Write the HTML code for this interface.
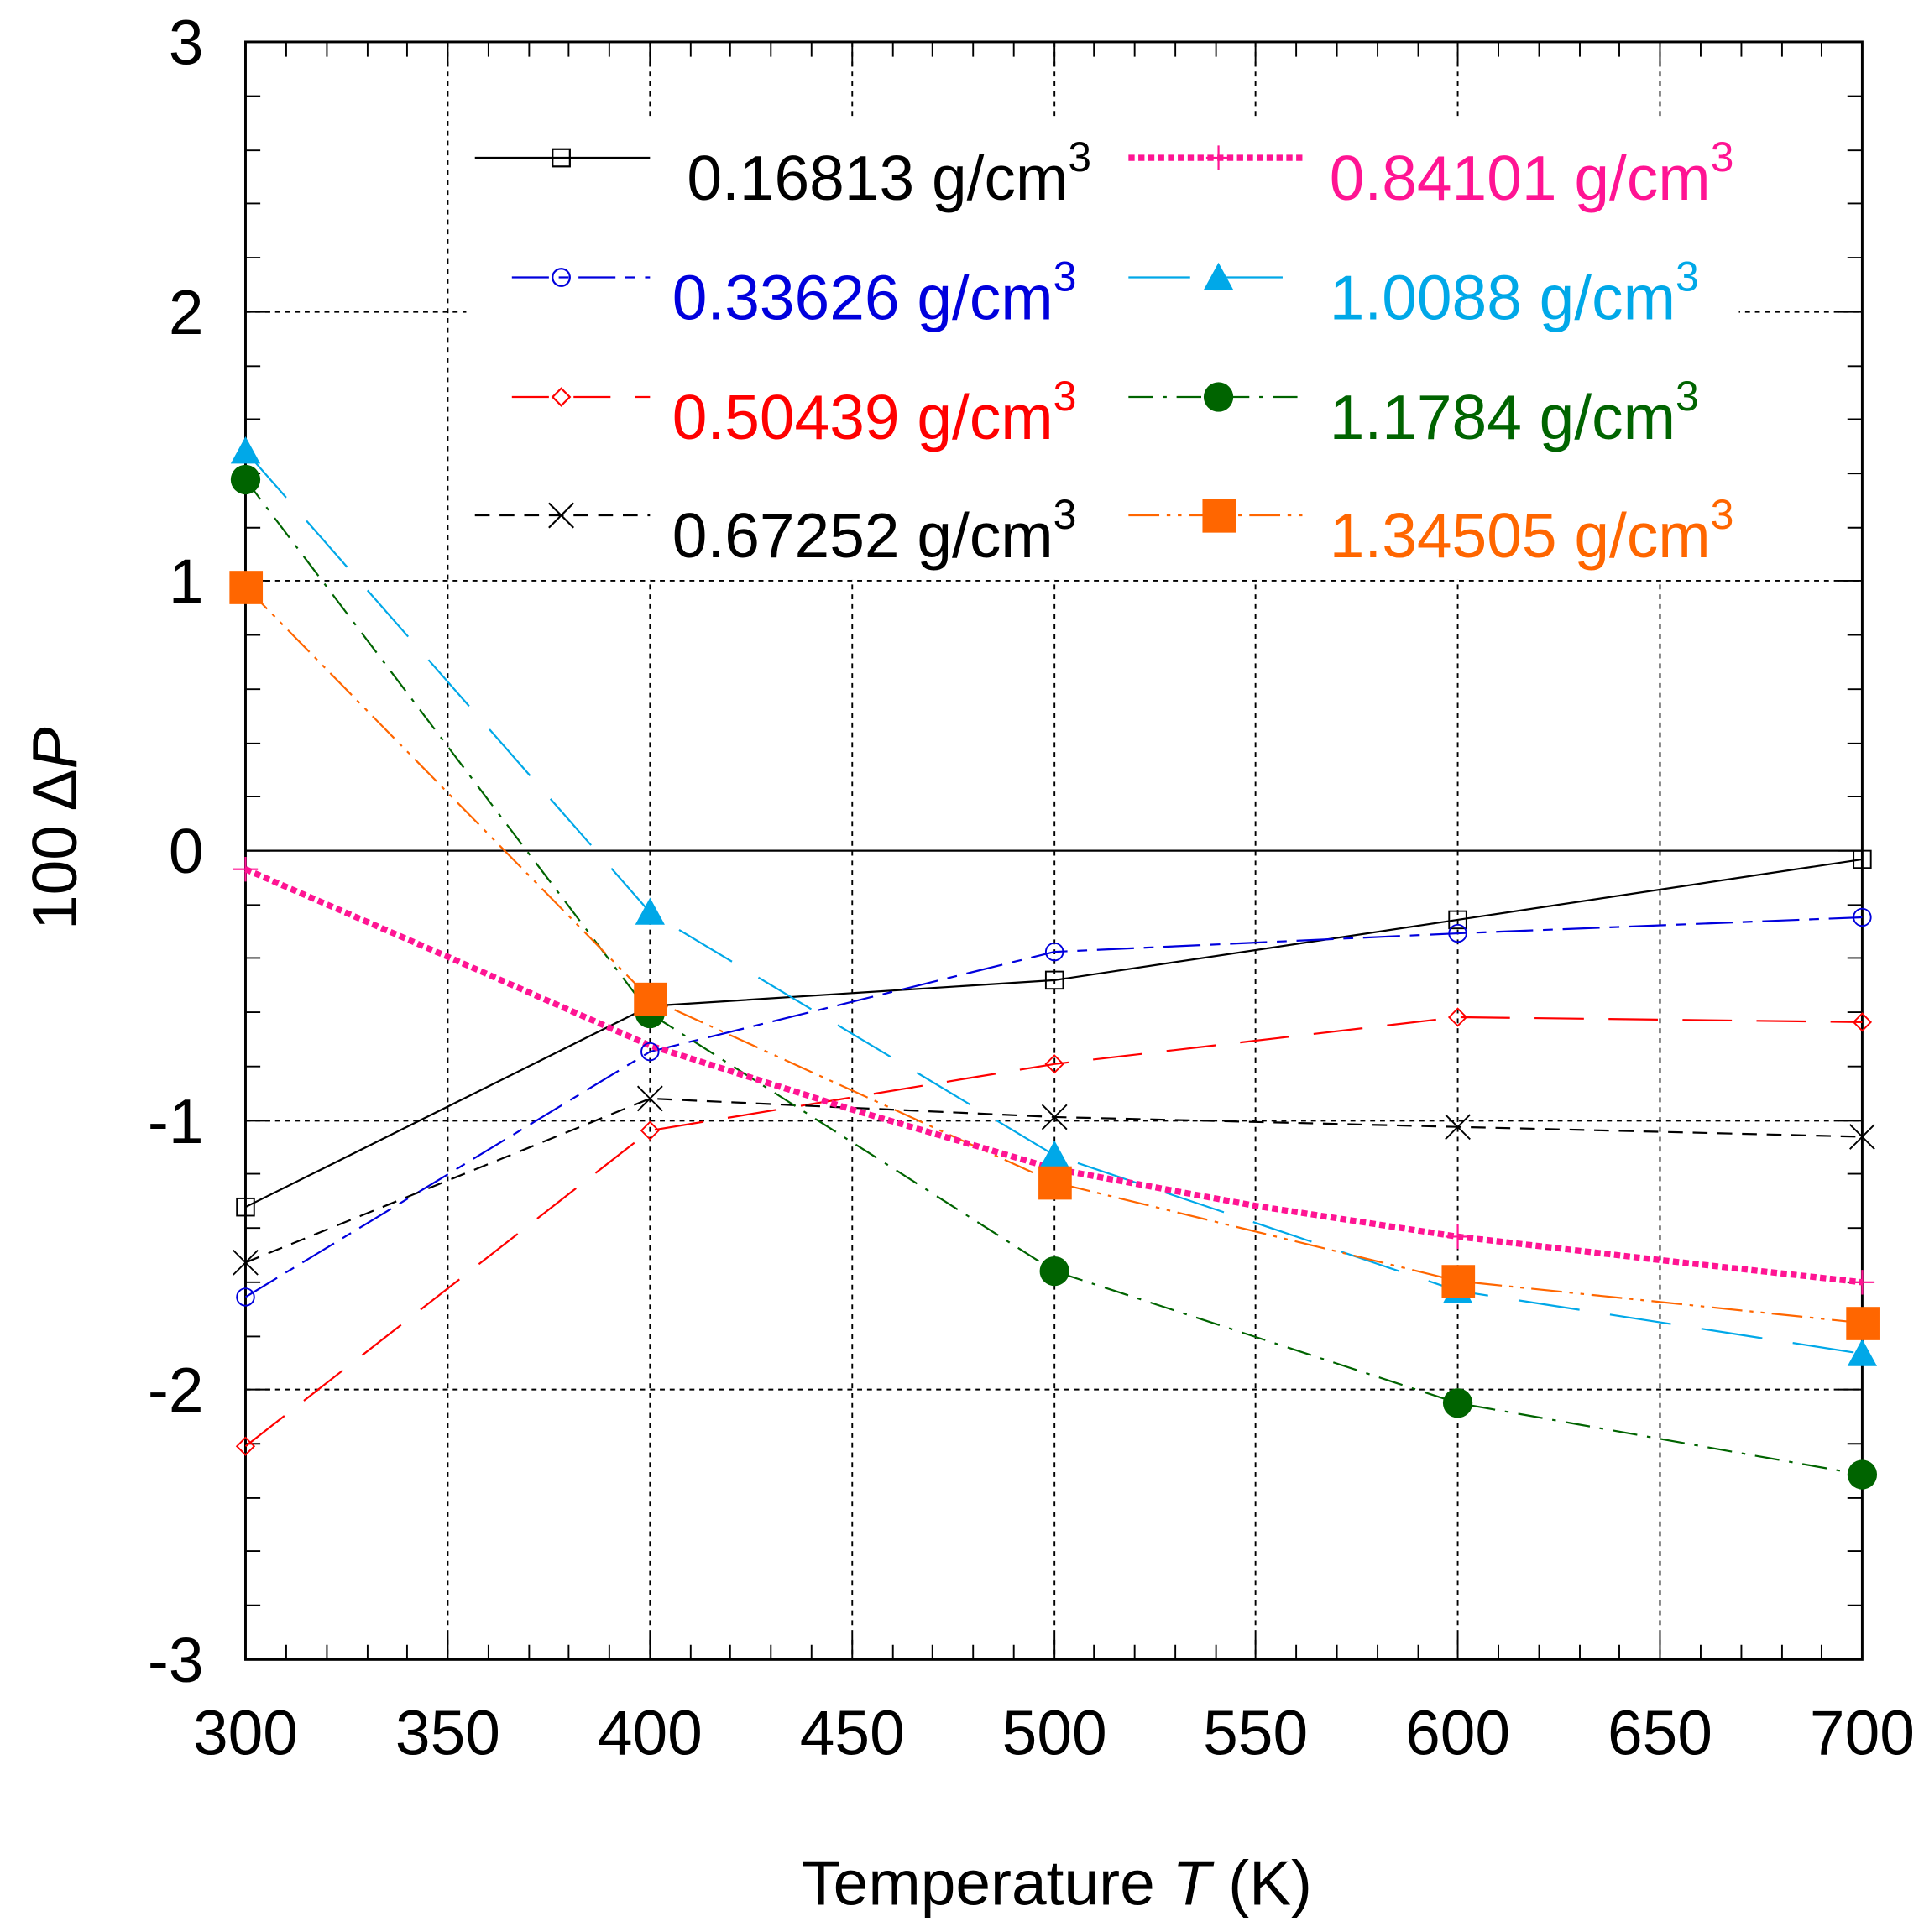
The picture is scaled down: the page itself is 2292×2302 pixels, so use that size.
<!DOCTYPE html>
<html><head><meta charset="utf-8"><style>html,body{margin:0;padding:0;background:#fff}svg{display:block}</style></head><body>
<svg width="2292" height="2302" viewBox="0 0 1560 1567" xmlns="http://www.w3.org/2000/svg" font-family="Liberation Sans, Arial, sans-serif">
<rect width="1560" height="1567" fill="#fff"/>
<g stroke="#000" stroke-width="1.3" stroke-dasharray="4,4">
<line x1="363" y1="34" x2="363" y2="1346"/><line x1="527" y1="34" x2="527" y2="1346"/><line x1="691" y1="34" x2="691" y2="1346"/><line x1="855" y1="34" x2="855" y2="1346"/><line x1="1018" y1="34" x2="1018" y2="1346"/><line x1="1182" y1="34" x2="1182" y2="1346"/><line x1="1346" y1="34" x2="1346" y2="1346"/>
<line x1="199" y1="253" x2="1510" y2="253"/><line x1="199" y1="471" x2="1510" y2="471"/><line x1="199" y1="909" x2="1510" y2="909"/><line x1="199" y1="1127" x2="1510" y2="1127"/>
</g>
<line x1="199" y1="690" x2="1510" y2="690" stroke="#000" stroke-width="1.5"/>
<rect x="378" y="95" width="1032" height="375" fill="#fff"/>
<g stroke="#000" stroke-width="1.3">
<path d="M232,1346v-12M265,1346v-12M298,1346v-12M330,1346v-12M363,1346v-20M396,1346v-12M429,1346v-12M461,1346v-12M494,1346v-12M527,1346v-20M560,1346v-12M592,1346v-12M625,1346v-12M658,1346v-12M691,1346v-20M724,1346v-12M756,1346v-12M789,1346v-12M822,1346v-12M855,1346v-20M887,1346v-12M920,1346v-12M953,1346v-12M986,1346v-12M1018,1346v-20M1051,1346v-12M1084,1346v-12M1117,1346v-12M1150,1346v-12M1182,1346v-20M1215,1346v-12M1248,1346v-12M1281,1346v-12M1313,1346v-12M1346,1346v-20M1379,1346v-12M1412,1346v-12M1445,1346v-12M1477,1346v-12"/>
<path d="M232,34v12M265,34v12M298,34v12M330,34v12M363,34v20M396,34v12M429,34v12M461,34v12M494,34v12M527,34v20M560,34v12M592,34v12M625,34v12M658,34v12M691,34v20M724,34v12M756,34v12M789,34v12M822,34v12M855,34v20M887,34v12M920,34v12M953,34v12M986,34v12M1018,34v20M1051,34v12M1084,34v12M1117,34v12M1150,34v12M1182,34v20M1215,34v12M1248,34v12M1281,34v12M1313,34v12M1346,34v20M1379,34v12M1412,34v12M1445,34v12M1477,34v12"/>
<path d="M199,78h12M199,122h12M199,165h12M199,209h12M199,253h20M199,297h12M199,340h12M199,384h12M199,428h12M199,471h20M199,515h12M199,559h12M199,603h12M199,646h12M199,690h20M199,734h12M199,777h12M199,821h12M199,865h12M199,909h20M199,952h12M199,996h12M199,1040h12M199,1084h12M199,1127h20M199,1171h12M199,1215h12M199,1258h12M199,1302h12"/>
<path d="M1510,78h-12M1510,122h-12M1510,165h-12M1510,209h-12M1510,253h-20M1510,297h-12M1510,340h-12M1510,384h-12M1510,428h-12M1510,471h-20M1510,515h-12M1510,559h-12M1510,603h-12M1510,646h-12M1510,690h-20M1510,734h-12M1510,777h-12M1510,821h-12M1510,865h-12M1510,909h-20M1510,952h-12M1510,996h-12M1510,1040h-12M1510,1084h-12M1510,1127h-20M1510,1171h-12M1510,1215h-12M1510,1258h-12M1510,1302h-12"/>
</g>
<rect x="199" y="34" width="1311" height="1312" fill="none" stroke="#000" stroke-width="2"/>
<g fill="none" stroke-width="1.5">
<polyline points="199,979 527,816 855,795 1182,746 1510,697" stroke="#000"/>
<polyline points="199,1052 527,853 855,772 1182,757 1510,744" stroke="#0000dd" stroke-dasharray="30,8,8,8"/>
<polyline points="199,1173 527,917 855,863 1182,825 1510,829" stroke="#ff0000" stroke-dasharray="40,20"/>
<polyline points="199,1024 527,891 855,906 1182,914 1510,922" stroke="#000" stroke-dasharray="12,8"/>
<polyline points="199,366 527,740 855,937 1182,1047 1510,1098" stroke="#00a8e8" stroke-dasharray="50,25"/>
<polyline points="199,389 527,822 855,1031 1182,1138 1510,1196" stroke="#006400" stroke-dasharray="20,8,3,8"/>
<polyline points="199,476 527,810 855,959 1182,1039 1510,1073" stroke="#ff6600" stroke-dasharray="25,6,3,6,3,6"/>
<polyline points="199,705 363,776 527,848 691,900 855,948 1018,978 1182,1003 1346,1022 1510,1040" stroke="#ff1493" stroke-width="5" stroke-dasharray="5,3"/>
</g>
<g fill="none" stroke="#000" stroke-width="1.3">
<rect x="192" y="972" width="14" height="14"/><rect x="520" y="809" width="14" height="14"/><rect x="848" y="788" width="14" height="14"/><rect x="1175" y="739" width="14" height="14"/><rect x="1503" y="690" width="14" height="14"/>
<path d="M189,1014l20,20M209,1014l-20,20M517,881l20,20M537,881l-20,20M845,896l20,20M865,896l-20,20M1172,904l20,20M1192,904l-20,20M1500,912l20,20M1520,912l-20,20"/>
</g>
<g fill="none" stroke="#0000dd" stroke-width="1.3"><circle cx="199" cy="1052" r="7"/><circle cx="527" cy="853" r="7"/><circle cx="855" cy="772" r="7"/><circle cx="1182" cy="757" r="7"/><circle cx="1510" cy="744" r="7"/></g>
<g fill="none" stroke="#ff0000" stroke-width="1.3"><path d="M199,1166l7,7l-7,7l-7,-7z M527,910l7,7l-7,7l-7,-7z M855,856l7,7l-7,7l-7,-7z M1182,818l7,7l-7,7l-7,-7z M1510,822l7,7l-7,7l-7,-7z"/></g>
<g stroke="#ff1493" stroke-width="1.5"><path d="M189,705h20M199,695v20M1172,1003h20M1182,993v20M1500,1040h20M1510,1030v20"/></g>
<g fill="#00a8e8"><path d="M199,354l12,22h-24z M527,728l12,22h-24z M855,925l12,22h-24z M1182,1035l12,22h-24z M1510,1086l12,22h-24z"/></g>
<g fill="#006400"><circle cx="199" cy="389" r="12"/><circle cx="527" cy="822" r="12"/><circle cx="855" cy="1031" r="12"/><circle cx="1182" cy="1138" r="12"/><circle cx="1510" cy="1196" r="12"/></g>
<g fill="#ff6600"><rect x="186" y="463" width="27" height="27"/><rect x="514" y="797" width="27" height="27"/><rect x="842" y="946" width="27" height="27"/><rect x="1169" y="1026" width="27" height="27"/><rect x="1497" y="1060" width="27" height="27"/></g>
<g fill="none" stroke-width="1.5">
<line x1="385" y1="128" x2="527" y2="128" stroke="#000"/><rect x="448" y="121" width="14" height="14" stroke="#000"/>
<line x1="415" y1="225" x2="527" y2="225" stroke="#0000dd" stroke-dasharray="30,8,8,8"/><circle cx="455" cy="225" r="7" stroke="#0000dd"/>
<line x1="415" y1="322" x2="527" y2="322" stroke="#ff0000" stroke-dasharray="30,20"/><path d="M455,315l7,7l-7,7l-7,-7z" stroke="#ff0000"/>
<line x1="385" y1="418" x2="527" y2="418" stroke="#000" stroke-dasharray="12,8"/><path d="M445,408l20,20M465,408l-20,20" stroke="#000"/>
<line x1="915" y1="128" x2="1058" y2="128" stroke="#ff1493" stroke-width="5" stroke-dasharray="5,3"/><path d="M978,128h20M988,118v20" stroke="#ff1493"/>
<line x1="915" y1="225" x2="1058" y2="225" stroke="#00a8e8" stroke-dasharray="50,25"/>
<line x1="915" y1="322" x2="1058" y2="322" stroke="#006400" stroke-dasharray="20,8,3,8"/>
<line x1="915" y1="418" x2="1058" y2="418" stroke="#ff6600" stroke-dasharray="25,6,3,6,3,6"/>
</g>
<path d="M988,213l12,22h-24z" fill="#00a8e8"/><circle cx="988" cy="322" r="12" fill="#006400"/><rect x="975" y="405" width="27" height="27" fill="#ff6600"/>
<g font-size="51">
<text x="557" y="162" fill="#000">0.16813 g/cm<tspan dy="-23" font-size="34">3</tspan></text>
<text x="545" y="259" fill="#0000dd">0.33626 g/cm<tspan dy="-23" font-size="34">3</tspan></text>
<text x="545" y="356" fill="#ff0000">0.50439 g/cm<tspan dy="-23" font-size="34">3</tspan></text>
<text x="545" y="452" fill="#000">0.67252 g/cm<tspan dy="-23" font-size="34">3</tspan></text>
<text x="1078" y="162" fill="#ff1493">0.84101 g/cm<tspan dy="-23" font-size="34">3</tspan></text>
<text x="1078" y="259" fill="#00a8e8">1.0088 g/cm<tspan dy="-23" font-size="34">3</tspan></text>
<text x="1078" y="356" fill="#006400">1.1784 g/cm<tspan dy="-23" font-size="34">3</tspan></text>
<text x="1078" y="452" fill="#ff6600">1.34505 g/cm<tspan dy="-23" font-size="34">3</tspan></text>
</g>
<g font-size="51" fill="#000" text-anchor="end">
<text x="165" y="52">3</text><text x="165" y="271">2</text><text x="165" y="489">1</text><text x="165" y="708">0</text><text x="165" y="927">-1</text><text x="165" y="1145">-2</text><text x="165" y="1364">-3</text>
</g>
<g font-size="51" fill="#000" text-anchor="middle">
<text x="199" y="1423">300</text><text x="363" y="1423">350</text><text x="527" y="1423">400</text><text x="691" y="1423">450</text><text x="855" y="1423">500</text><text x="1018" y="1423">550</text><text x="1182" y="1423">600</text><text x="1346" y="1423">650</text><text x="1510" y="1423">700</text>
<text x="857" y="1545">Temperature <tspan font-style="italic">T</tspan> (K)</text>
<text transform="translate(62,672) rotate(-90)">100 Δ<tspan font-style="italic">P</tspan></text>
</g>
</svg>
</body></html>
